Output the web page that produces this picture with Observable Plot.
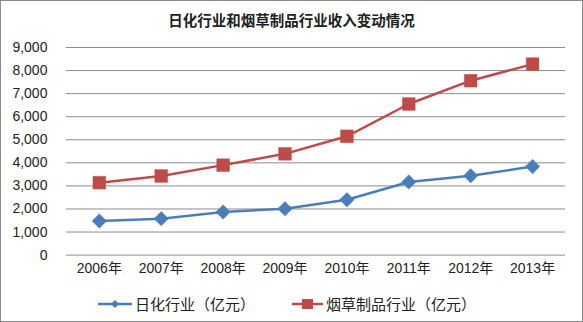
<!DOCTYPE html>
<html><head><meta charset="utf-8">
<script src="https://cdn.jsdelivr.net/npm/d3@7"></script>
<script src="https://cdn.jsdelivr.net/npm/@observablehq/plot@0.6"></script>
<style>
body{margin:0;background:#fff;font-family:"Noto Sans CJK SC","Liberation Sans",sans-serif;}
#box{position:relative;width:581px;height:320px;border:1px solid #8a8a8a;overflow:hidden;}
#title{position:absolute;top:8px;left:0;width:581px;text-align:center;font-size:14.5px;font-weight:bold;color:#222;}
#chart{position:absolute;top:33px;left:-1px;}
#legend{position:absolute;top:292px;left:0;width:581px;font-size:15px;color:#222;}
.item{position:absolute;top:0;display:flex;align-items:center;}
</style></head>
<body>
<div id="box">
<div id="title">日化行业和烟草制品行业收入变动情况</div>
<div id="chart"></div>
<div id="legend"></div>
</div>
<script>
const years = ["2006年","2007年","2008年","2009年","2010年","2011年","2012年","2013年"];
const rihua = [1480,1580,1870,2010,2400,3170,3440,3840];
const yancao = [3140,3430,3900,4390,5150,6550,7560,8280];
const yTicks = [0,1000,2000,3000,4000,5000,6000,7000,8000,9000];
const seriesNames = ["日化行业（亿元）","烟草制品行业（亿元）"];
const colors = ["#4a7ebb","#be4b48"];

const data = [];
years.forEach((y,i)=>{
  data.push({year:y, value:rihua[i], s:seriesNames[0]});
  data.push({year:y, value:yancao[i], s:seriesNames[1]});
});
const blue = data.filter(d=>d.s===seriesNames[0]);
const red = data.filter(d=>d.s===seriesNames[1]);

const plot = Plot.plot({
  width:583, height:252,
  marginTop:13, marginBottom:31, marginLeft:66, marginRight:17,
  style:{fontFamily:"'Liberation Sans','Noto Sans CJK SC',sans-serif", fontSize:"14px", color:"#222"},
  x:{type:"band", domain:years, padding:0, label:null, tickSize:0},
  y:{domain:[0,9000], ticks:yTicks, label:null, tickSize:0},
  marks:[
    Plot.gridY(yTicks,{stroke:"#8c8c8c", strokeOpacity:1, strokeWidth:1}),
    Plot.axisX({tickSize:0, tickPadding:8, fontSize:14}),
    Plot.axisY({ticks:yTicks, tickSize:0, tickPadding:19, tickFormat:d=>d3.format(",")(d), fontSize:14}),
    Plot.line(blue,{x:"year", y:"value", stroke:colors[0], strokeWidth:2.5}),
    Plot.line(red,{x:"year", y:"value", stroke:colors[1], strokeWidth:2.5}),
    Plot.dot(blue,{x:"year", y:"value", symbol:"diamond2", r:6.5, fill:colors[0], stroke:colors[0], strokeWidth:0.5}),
    Plot.dot(red,{x:"year", y:"value", symbol:"square", r:7.2, fill:colors[1], stroke:"#c0504d", strokeWidth:0.5})
  ]
});
document.getElementById("chart").appendChild(plot);

// legend
const leg = document.getElementById("legend");
const items = [
  {x:96, sym:"diamond", name:seriesNames[0], color:colors[0]},
  {x:290, sym:"square", name:seriesNames[1], color:colors[1]}
];
items.forEach(it=>{
  const d = document.createElement("div");
  d.className="item"; d.style.left = it.x+"px";
  const sw = it.sym==="diamond"
    ? `<svg width="36" height="20"><line x1="1" y1="10" x2="35" y2="10" stroke="${it.color}" stroke-width="2.5"/><path d="M18,6 L22,10 L18,14 L14,10Z" fill="${it.color}"/></svg>`
    : `<svg width="33" height="20"><line x1="1" y1="10" x2="32" y2="10" stroke="${it.color}" stroke-width="2.5"/><rect x="11" y="5" width="11" height="10" fill="${it.color}"/></svg>`;
  d.innerHTML = sw + `<span style="margin-left:2px">${it.name}</span>`;
  leg.appendChild(d);
});
</script>
</body></html>
